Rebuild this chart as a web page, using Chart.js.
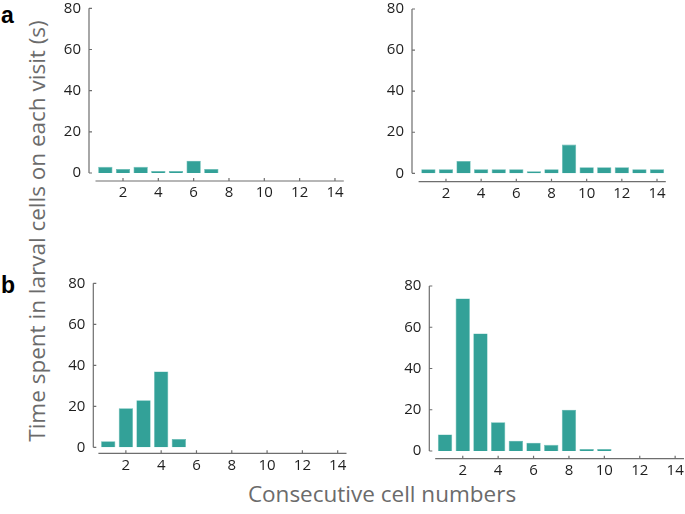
<!DOCTYPE html>
<html><head><meta charset="utf-8">
<script src="https://cdn.jsdelivr.net/npm/chart.js@4"></script>
<style>
html,body{margin:0;padding:0;background:#fff;width:685px;height:514px;overflow:hidden;position:relative;}
canvas.pc{position:absolute;left:-40px;top:-40px;}
.lbl{position:absolute;font-family:"Liberation Sans",Arial,sans-serif;font-weight:bold;font-size:23px;color:#000;line-height:1;}
#ytitle{position:absolute;left:37px;top:231px;transform:translate(-50%,-50%) rotate(-90deg);white-space:nowrap;font-family:"Open Sans",sans-serif;font-size:22.5px;color:#6b6b6b;line-height:1;}
#xtitle{position:absolute;left:382px;top:494px;transform:translate(-50%,-50%);white-space:nowrap;font-family:"Open Sans",sans-serif;font-size:22.5px;color:#6b6b6b;line-height:1;}
</style></head><body>
<div class="lbl" style="left:1px;top:4px;">a</div>
<div class="lbl" style="left:1px;top:274px;">b</div>
<div id="ytitle">Time spent in larval cells on each visit (s)</div>
<div id="xtitle">Consecutive cell numbers</div>
<canvas class="pc" id="c1" width="765" height="594"></canvas>
<canvas class="pc" id="c2" width="765" height="594"></canvas>
<canvas class="pc" id="c3" width="765" height="594"></canvas>
<canvas class="pc" id="c4" width="765" height="594"></canvas>
<script>
// Data
const cells = ['1','2','3','4','5','6','7','8','9','10','11','12','13','14'];
const yTicks = [0, 20, 40, 60, 80];
const aLeft  = [3, 2, 3, 1, 1, 6, 2, 0, 0, 0, 0, 0, 0, 0];
const aRight = [2, 2, 6, 2, 2, 2, 1, 2, 14, 3, 3, 3, 2, 2];
const bLeft  = [3, 19, 23, 37, 4, 0, 0, 0, 0, 0, 0, 0, 0, 0];
const bRight = [8, 74, 57, 14, 5, 4, 3, 20, 1, 1, 0, 0, 0, 0];

const OX = 40, OY = 40, CW = 765, CH = 594;
const YW = 70, XH = 30;
const barColor = '#33a198';

const axesPlugin = {
  id: 'offsetAxes',
  afterDraw(chart, args, opts) {
    const ctx = chart.ctx, ca = chart.chartArea;
    const xs = chart.scales.x, ys = chart.scales.y;
    ctx.save();
    ctx.strokeStyle = '#6e6e6e';
    ctx.lineWidth = 1.2;
    const ax = opts.axisX;
    const y0 = ys.getPixelForValue(0), y80 = ys.getPixelForValue(80);
    ctx.beginPath();
    ctx.moveTo(ax, y0); ctx.lineTo(ax, y80);
    yTicks.forEach(v => { const p = ys.getPixelForValue(v); ctx.moveTo(ax, p); ctx.lineTo(ax + 3, p); });
    const by = ca.bottom;
    ctx.moveTo(ca.left - 1, by); ctx.lineTo(ca.right, by);
    cells.forEach((c, i) => { if ((i + 1) % 2 === 0) { const p = xs.getPixelForValue(i); ctx.moveTo(p, by); ctx.lineTo(p, by - 3); } });
    ctx.stroke();
    ctx.restore();
  }
};

function makePanel(id, data, g) {
  const left = g.left + OX, right = g.right + OX, top = g.top + OY, zero = g.zero + OY, bottom = g.bottom + OY;
  const yMin = -(bottom - zero) / (zero - top) * 80;
  new Chart(document.getElementById(id), {
    type: 'bar',
    data: { labels: cells, datasets: [{ data: data, backgroundColor: barColor,
      borderColor: '#5fb8b0', borderWidth: c => (c.raw ? 0.6 : 0),
      barPercentage: 0.81, categoryPercentage: 1.0 }] },
    options: {
      responsive: false, animation: false,
      layout: { padding: { left: left - YW, right: CW - right, top: top, bottom: CH - bottom - XH } },
      plugins: { legend: { display: false }, tooltip: { enabled: false }, offsetAxes: { axisX: g.axisX + OX } },
      scales: {
        x: { type: 'category', offset: true, grid: { display: false, drawTicks: false }, border: { display: false },
          afterFit: s => { s.height = XH; },
          ticks: { autoSkip: false, maxRotation: 0, padding: 3, color: '#1e1e1e',
            font: { family: 'Open Sans', size: 15 },
            callback: (v, i) => ((i + 1) % 2 === 0 ? cells[i] : '') } },
        y: { min: yMin, max: 80, grid: { display: false, drawTicks: false }, border: { display: false },
          afterFit: s => { s.width = YW; },
          afterBuildTicks: s => { s.ticks = yTicks.map(v => ({ value: v })); },
          ticks: { padding: (g.left - g.axisX) + 8, color: '#1e1e1e', font: { family: 'Open Sans', size: 15 } } }
      }
    },
    plugins: [axesPlugin]
  });
}

makePanel('c1', aLeft,  { axisX: 89,    left: 96.5,  right: 343.8, top: 8.3,   zero: 173,   bottom: 181 });
makePanel('c2', aRight, { axisX: 412,   left: 419.6, right: 665.8, top: 9,     zero: 173.3, bottom: 181.7 });
makePanel('c3', bLeft,  { axisX: 93.3,  left: 99.4,  right: 346.5, top: 283.3, zero: 447.3, bottom: 453.3 });
makePanel('c4', bRight, { axisX: 429.3, left: 436.2, right: 684,   top: 286,   zero: 451,   bottom: 458.7 });
</script>
</body></html>
